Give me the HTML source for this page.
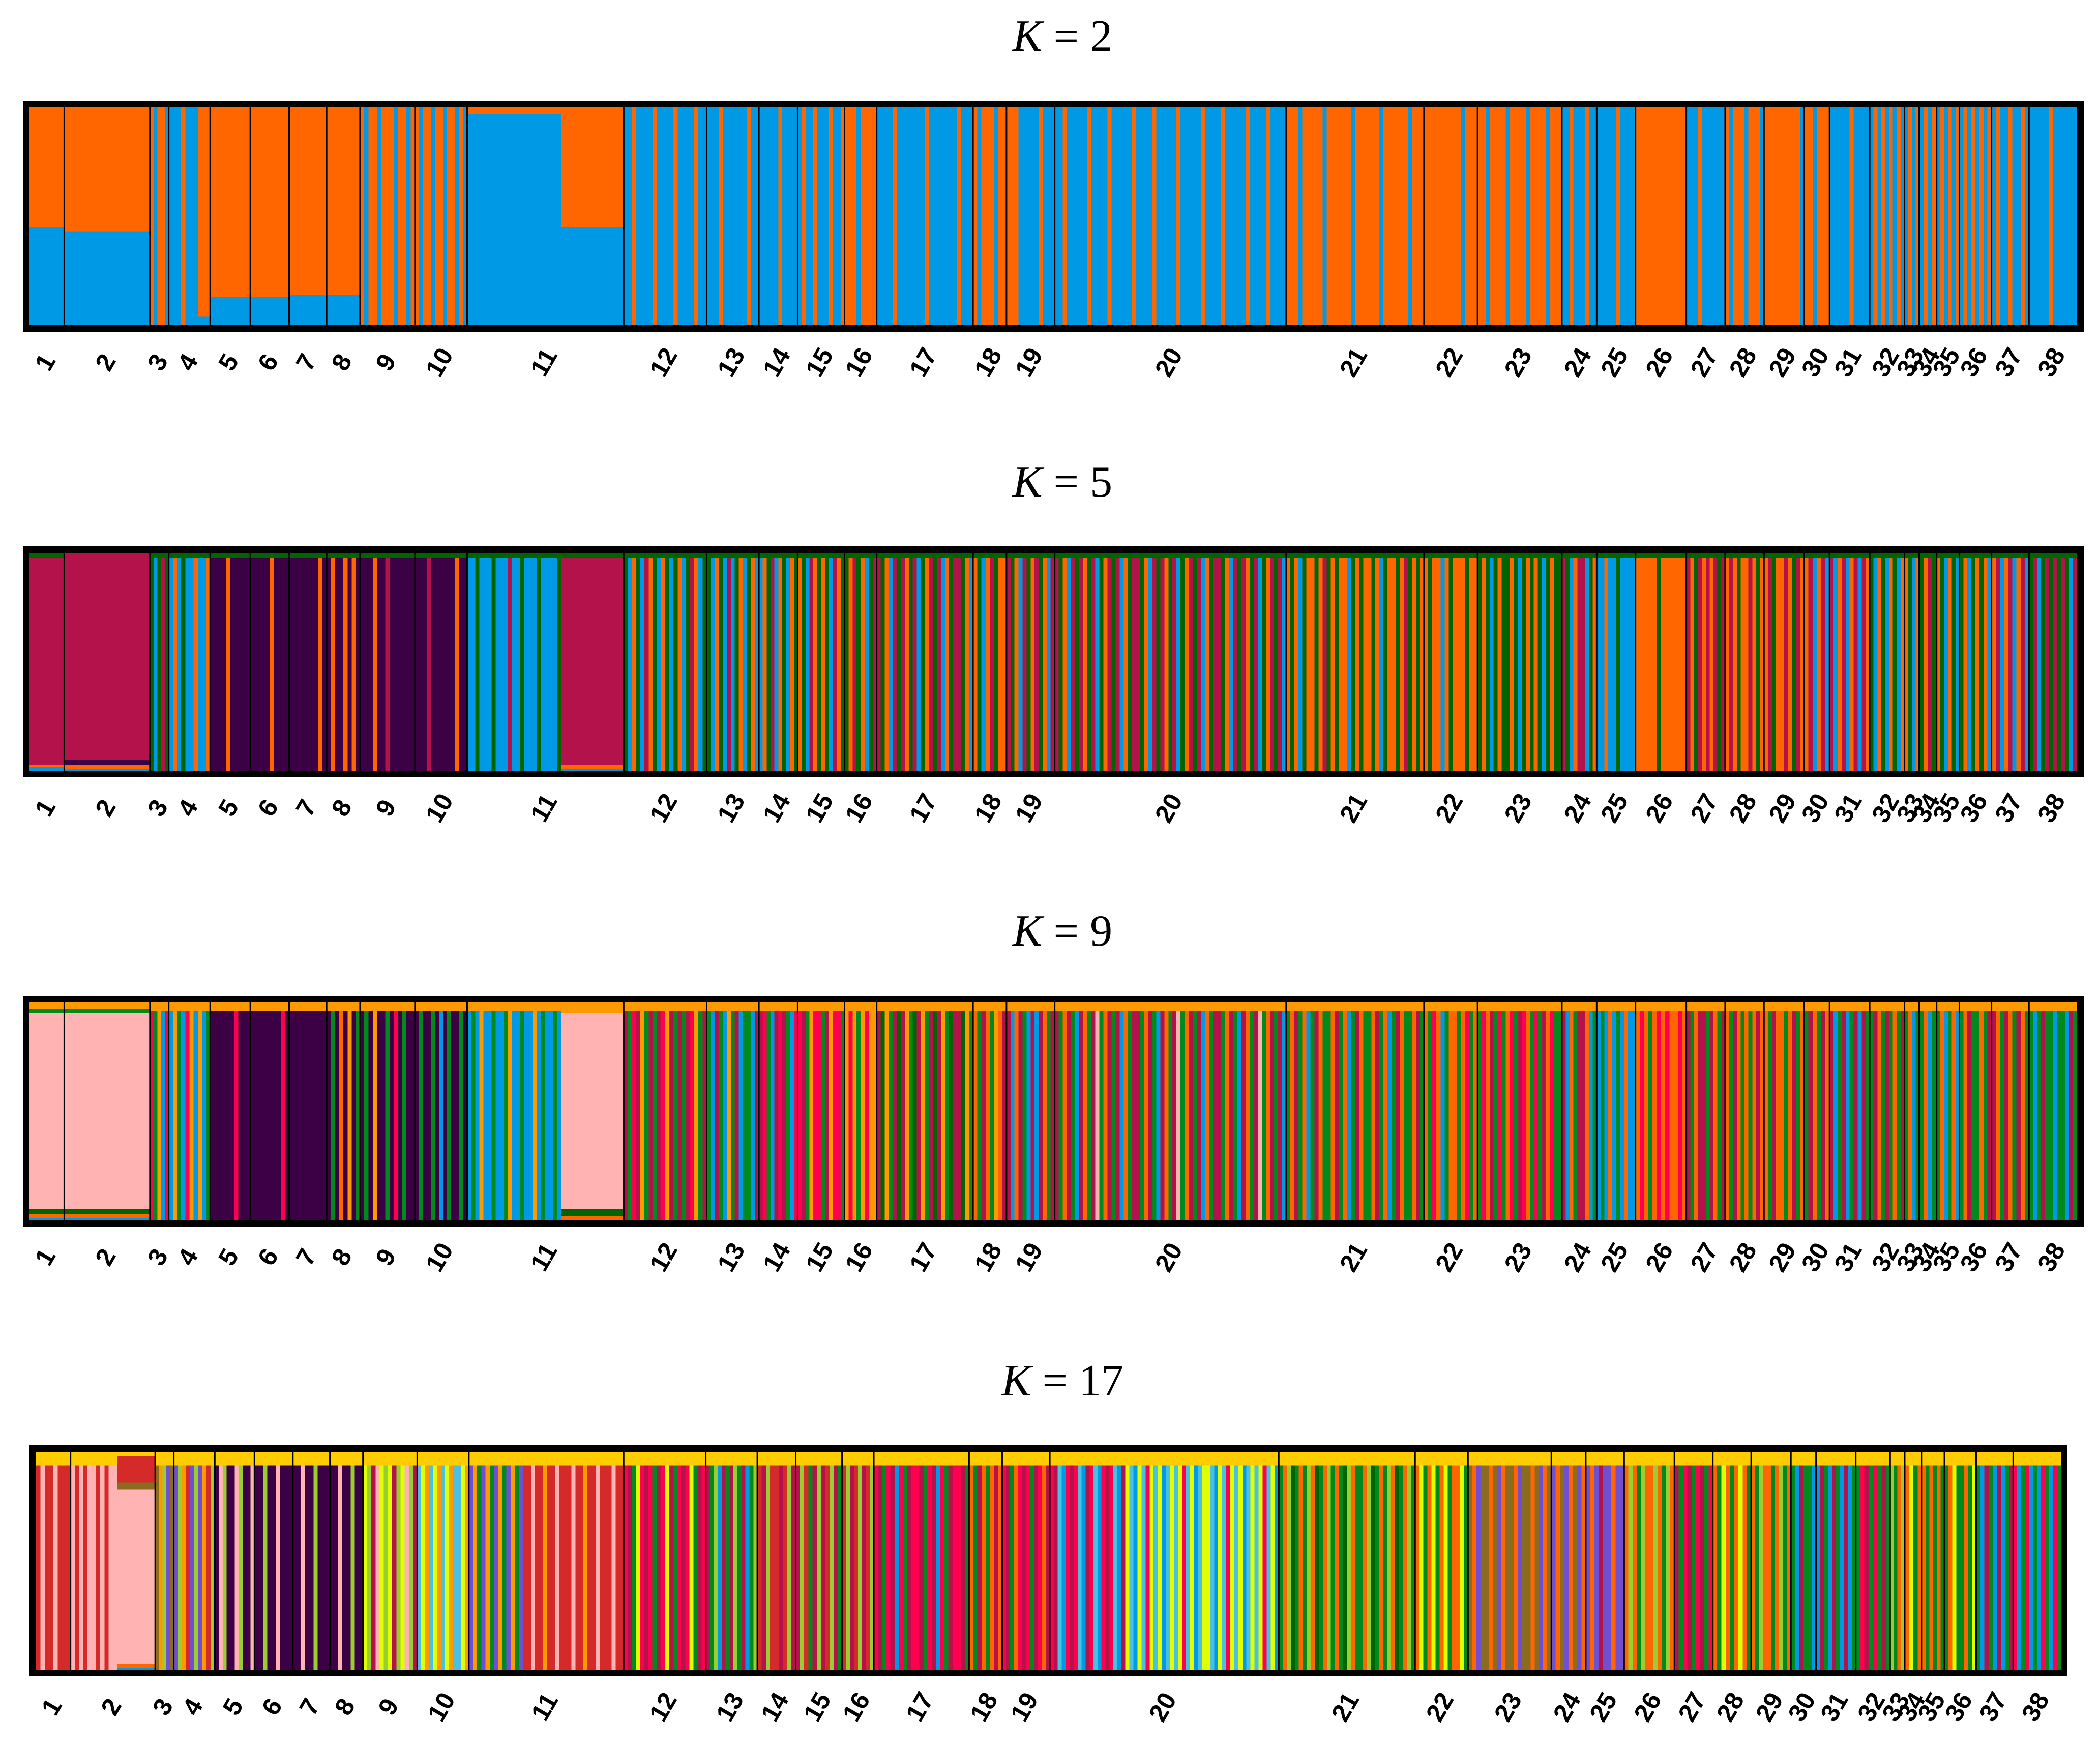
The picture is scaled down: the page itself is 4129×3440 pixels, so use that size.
<!DOCTYPE html>
<html><head><meta charset="utf-8"><style>
html,body{margin:0;padding:0;background:#fff}
svg{display:block}
</style></head><body>
<svg id="chart" xmlns="http://www.w3.org/2000/svg" width="4129" height="3440" viewBox="0 0 4129 3440"></svg>
<script>
const popSizes = [26,64,14,31,30,29,28,25,41,39,117,62,39,29,35,24,72,25,36,173,103,40,63,26,29,38,29,29,30,19,30,26,11,13,17,24,28,36];
const popLabels = ["1","2","3","4","5","6","7","8","9","10","11","12","13","14","15","16","17","18","19","20","21","22","23","24","25","26","27","28","29","30","31","32","33","34","35","36","37","38"];
const k2Colors = {o:"#ff6600",b:"#0099e6"};
const k2Order = "bo";
const k2Data = ["s|1|b.45 o.55","s|1|b.43 o.57","v|1|b.35 o.65","v|.7|b.85 o.15;s|.3|b.04 o.96","s|1|b.13 o.87","s|1|b.13 o.87","s|1|b.14 o.86","s|1|b.14 o.86","v|1|b.3 o.7","v|1|b.35 o.65","s|.6|b.97 o.03;s|.4|b.45 o.55","v|1|b.8 o.2","v|1|b.85 o.15","v|1|b.9 o.1","v|1|b.7 o.3","v|1|b.15 o.85","v|1|b.88 o.12","v|1|b.25 o.75","v|.25|b.1 o.9;v|.75|b.9 o.1","v|1|b.82 o.18","v|1|b.15 o.85","v|1|b.05 o.95","v|1|b.2 o.8","v|1|b.75 o.25","v|1|b.9 o.1","v|1|b.03 o.97","v|1|b.85 o.15","v|1|b.25 o.75","v|1|b.05 o.95","v|1|b.2 o.8","v|1|b.9 o.1","v|1|b.55 o.45","v|1|b.5 o.5","v|1|b.5 o.5","v|1|b.5 o.5","v|1|b.55 o.45","v|1|b.65 o.35","v|1|b.9 o.1"];
const k5Colors = {c:"#b3124a",p:"#3c0045",g:"#006400",o:"#ff6600",b:"#0099e6"};
const k5Order = "bopcg";
const k5Data = ["s|1|b.02 o.01 c.95 g.02","s|1|b.01 o.02 p.02 c.95","v|1|b.35 g.55 c.1","v|1|b.6 o.25 g.15","v|1|p.88 o.1 g.02","v|1|p.9 o.08 g.02","v|1|p.92 o.06 g.02","v|1|p.6 o.35 c.05","v|1|p.8 o.1 c.1","v|1|p.85 o.05 c.1","v|.6|b.75 g.2 c.05;s|.4|b.01 o.02 g.02 c.95","v|1|g.35 b.3 o.25 c.1","v|1|g.35 b.35 o.2 c.1","v|1|b.3 o.3 g.3 c.1","v|1|o.35 g.35 b.15 c.15","v|1|g.4 o.3 c.2 b.1","v|1|c.35 g.3 o.2 b.15","v|1|o.45 g.3 b.15 c.1","v|1|c.3 g.3 o.25 b.15","v|1|c.35 g.3 o.2 b.15","v|1|o.5 g.35 b.1 c.05","v|1|o.65 g.25 b.1","v|1|g.55 o.3 b.15","v|1|c.4 g.2 b.2 o.2","v|1|b.75 o.15 g.1","v|1|o.9 g.1","v|1|c.45 o.35 g.2","v|1|o.6 c.2 g.2","v|1|o.5 c.3 g.2","v|1|o.4 c.3 b.3","v|1|c.4 b.35 o.25","v|1|g.35 b.3 o.3 c.05","v|1|o.4 g.3 b.3","v|1|g.4 o.3 c.3","v|1|o.4 g.3 b.3","v|1|g.4 o.4 b.2","v|1|o.4 c.3 b.3","v|1|c.4 g.45 b.15"];
const k9Colors = {k:"#ffb3b3",a:"#ff9900",c:"#b3124a",r:"#ff0050",g:"#008a1e",d:"#006400",p:"#3c0045",b:"#0099e6",o:"#ff6600"};
const k9Order = "bodkpcrga";
const k9Data = ["s|1|b.01 o.02 d.02 k.9 g.02 a.03","s|1|b.01 o.02 d.02 k.9 g.02 a.03","v|1|r.3 g.25 b.2 a.25","v|1|b.4 a.3 g.15 r.15","v|1|p.9 r.05 o.05","v|1|p.92 r.04 o.04","v|1|p.93 r.04 o.03","v|1|p.55 g.2 o.15 a.1","v|1|p.6 g.25 a.1 r.05","v|1|p.6 g.3 b.1","v|.6|b.6 g.25 a.15;s|.4|o.02 d.03 k.9 a.05","v|1|c.4 g.3 r.15 a.15","v|1|g.4 b.3 c.2 a.1","v|1|c.35 r.25 g.2 b.2","v|1|r.4 c.2 g.2 a.2","v|1|a.55 r.3 g.15","v|1|c.35 d.25 a.2 g.2","v|1|o.4 g.3 c.2 a.1","v|1|c.4 b.3 o.15 g.15","v|1|c.35 g.3 o.2 b.1 k.05","v|1|g.4 o.3 c.2 b.1","v|1|o.45 g.3 r.15 b.1","v|1|g.35 r.3 o.2 c.15","v|1|c.4 b.2 o.2 g.2","v|1|b.55 g.25 o.2","v|1|o.55 r.35 g.1","v|1|c.5 g.3 o.2","v|1|o.45 g.35 c.2","v|1|o.5 g.3 c.2","v|1|g.4 c.3 o.3","v|1|c.4 b.35 g.25","v|1|g.45 c.3 o.25","v|1|g.4 o.35 b.25","v|1|g.4 o.35 b.25","v|1|g.4 o.35 b.25","v|1|g.5 o.3 c.2","v|1|c.35 o.35 g.3","v|1|g.6 b.25 c.15"];
const k17Colors = {y:"#ffcc00",R:"#d42a2a",k:"#ffb3b3",v:"#7050d0",p:"#3c0045",l:"#9acd32",z:"#e0ff00",s:"#4cc0e0",a:"#ff9900",o:"#ff6600",g:"#008a1e",d:"#006400",c:"#b3124a",r:"#ff0050",b:"#0099e6",w:"#8b6b20"};
const k17Order = "bokwRpvlzsagdcry";
const k17Data = ["v|1|R.7 k.3","v|.55|k.6 R.4;s|.45|b.01 o.02 k.8 w.03 R.12 y.02","v|1|w.35 a.25 l.2 v.2","v|1|v.35 l.25 a.2 R.2","v|1|p.5 k.25 l.25","v|1|p.75 l.15 k.1","v|1|p.75 k.15 l.1","v|1|p.7 k.2 l.1","v|1|z.35 l.3 c.2 k.15","v|1|s.4 z.3 a.3","v|.35|v.35 a.35 g.3;v|.65|R.7 k.2 a.1","v|1|r.35 c.3 g.2 z.15","v|1|c.35 g.3 l.2 b.15","v|1|R.5 c.3 l.2","v|1|c.35 l.3 R.2 g.15","v|1|R.4 l.3 c.3","v|1|r.4 c.3 g.2 b.1","v|1|o.45 g.3 c.25","v|1|r.35 c.3 g.2 o.15","v|.33|r.35 c.25 s.2 b.2;v|.67|z.4 s.35 b.15 r.1","v|1|g.35 o.3 d.15 l.2","v|1|o.4 z.3 g.3","v|1|w.5 o.3 v.2","v|1|v.35 o.35 w.3","v|1|v.6 o.25 c.15","v|1|o.5 l.35 g.15","v|1|c.4 g.3 r.3","v|1|o.45 g.3 z.25","v|1|o.5 g.3 l.2","v|1|g.5 b.3 c.2","v|1|b.4 c.35 g.25","v|1|g.45 r.3 c.25","v|1|l.4 g.3 o.3","v|1|o.5 z.3 g.2","v|1|o.5 g.5","v|1|g.5 o.3 z.2","v|1|g.35 c.3 b.35","v|1|r.35 g.3 b.35"];

const NS="http://www.w3.org/2000/svg";
const svg=document.getElementById('chart');
function mk(tag,attrs,parent){const e=document.createElementNS(NS,tag);for(const k in attrs)e.setAttribute(k,attrs[k]);(parent||svg).appendChild(e);return e;}
function parseComp(str){const out=[];str.trim().split(/\s+/).forEach(t=>{out.push([t[0],parseFloat(t.slice(1))]);});return out;}

const panels=[
 {name:"2",top:198,left:45,right:4097,data:k2Data,colors:k2Colors,order:k2Order,capK:null,capF:0},
 {name:"5",top:1074,left:45,right:4097,data:k5Data,colors:k5Colors,order:k5Order,capK:"g",capF:0.02},
 {name:"9",top:1957,left:45,right:4097,data:k9Data,colors:k9Colors,order:k9Order,capK:"a",capF:0.04},
 {name:"17",top:2841,left:58,right:4065,data:k17Data,colors:k17Colors,order:k17Order,capK:"y",capF:0.06}
];
const H=454, BW=13;

panels.forEach(P=>{
  const g=mk('g',{});
  
  
  const t=mk('text',{x:2089,y:P.top-98,'text-anchor':'middle','font-family':'"Liberation Serif",serif','font-size':88,fill:'#000'},g);
  
  
  t.innerHTML='<tspan font-style="italic">K</tspan> = '+P.name;
  const x0=P.left+BW, x1=P.right-BW, y0=P.top+BW, y1=P.top+H-BW, ih=y1-y0;
  const total=popSizes.reduce((a,b)=>a+b,0);
  const sx=v=>x0+(x1-x0)*v/total;
  let cum=0;
  const bars=mk('g',{'shape-rendering':'crispEdges'},g);
  
  
  popSizes.forEach((n,i)=>{
    const px0=sx(cum), px1=sx(cum+n);
    const segs=P.data[i].split(';');
    let wacc=0;
    segs.forEach(sg=>{
      const [mode,ws,cs]=sg.split('|');
      const w=parseFloat(ws);
      const sx0=px0+(px1-px0)*wacc, sx1=px0+(px1-px0)*(wacc+w);
      wacc+=w;
      const comp=parseComp(cs);
      const sum=comp.reduce((a,c)=>a+c[1],0);
      if(mode==='s'){
        let yb=y1;
        for(const key of P.order){
          const c=comp.find(q=>q[0]===key); if(!c)continue;
          const h=ih*c[1]/sum;
          const r=mk('rect',{x:sx0,y:yb-h,width:sx1-sx0+0.6,height:h+0.6,fill:P.colors[key]},bars);
          
          
          yb-=h;
        }
      } else {
        const nInd=Math.max(1,Math.round((sx1-sx0)/8));
        const acc=comp.map(()=>0);
        const iw=(sx1-sx0)/nInd;
        const capH=ih*P.capF;
        for(let j=0;j<nInd;j++){
          comp.forEach((c,ci)=>acc[ci]+=c[1]/sum);
          let best=0;acc.forEach((a,ci)=>{if(a>acc[best])best=ci;});
          acc[best]-=1;
          const key=comp[best][0];
          const r=mk('rect',{x:sx0+j*iw,y:y0+capH,width:iw+0.6,height:ih-capH,fill:P.colors[key]},bars);
          
          
          if(capH>0){
            const cr=mk('rect',{x:sx0+j*iw,y:y0,width:iw+0.6,height:capH+0.6,fill:P.colors[P.capK]},bars);
            
            
          }
        }
      }
    });
    if(i>0){
      const l=mk('line',{x1:px0,x2:px0,y1:y0,y2:y1,stroke:'#000','stroke-width':3},g);
      
      
    }
    const cx=(px0+px1)/2, ly=P.top+H+62;
    const lb=mk('text',{x:cx,y:ly,'text-anchor':'middle','dominant-baseline':'middle','font-family':'"Liberation Sans",sans-serif','font-size':50,'font-weight':'bold',fill:'#000',transform:'rotate(-60 '+cx+' '+ly+')'},g);
    
    
    lb.textContent=popLabels[i];
    cum+=n;
  });
  const fr=mk('rect',{x:P.left+BW/2,y:P.top+BW/2,width:P.right-P.left-BW,height:H-BW,fill:'none',stroke:'#000','stroke-width':BW},g);
  
  
});
</script>
</body></html>
